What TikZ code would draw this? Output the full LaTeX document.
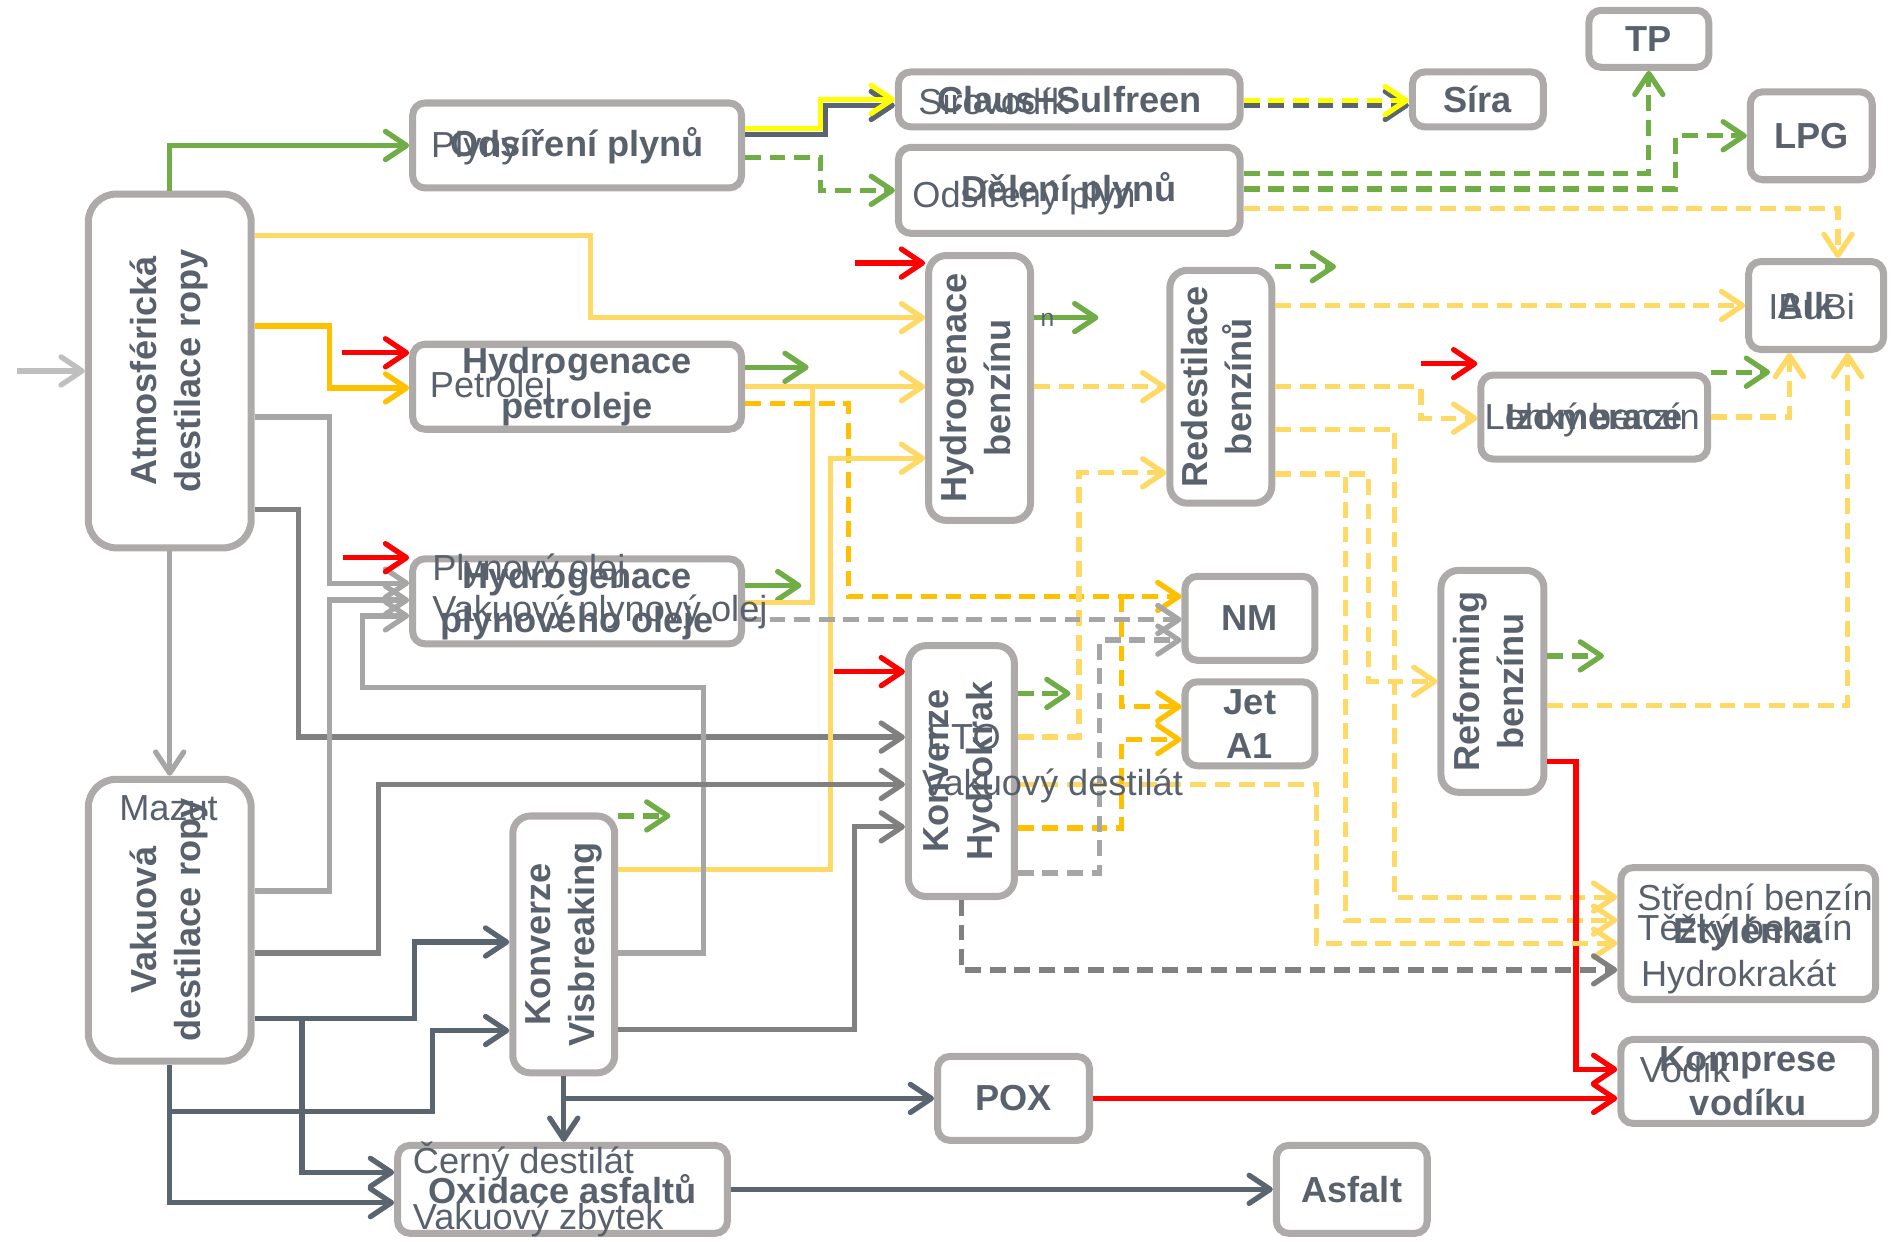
\documentclass[tikz,border=0pt]{standalone}
\usepackage{fontspec}
\setmainfont{Liberation Sans}
\usepackage{tikz}
\usepackage{xcolor}
\usepackage{graphicx}
\usetikzlibrary{arrows.meta}

\definecolor{boxgray}{HTML}{AEAAAA}
\definecolor{txtgray}{HTML}{58616C}
\definecolor{gasgreen}{HTML}{70AD47}
\definecolor{lightfuel}{HTML}{FFD966}
\definecolor{kerosene}{HTML}{FFC000}
\definecolor{hydrogen}{HTML}{FF0000}
\definecolor{sulfur}{HTML}{FFFF00}
\definecolor{crudegray}{HTML}{BFBFBF}
\definecolor{lightgas}{HTML}{A6A6A6}
\definecolor{midgas}{HTML}{808080}
\definecolor{heavy}{HTML}{5B6570}

\newcommand{\dfont}{\fontsize{10.3}{12.6}\selectfont}
\newcommand{\rotlab}[2]{\rotatebox{90}{\begin{tabular}{@{}c@{}}#1\\#2\end{tabular}}}

\begin{document}
\begin{tikzpicture}[
    x=0.012124cm, y=-0.012124cm,
    font=\dfont,
    >={Straight Barb[length=6pt,width=8pt,round]},
    unitbox/.style={
        rectangle,
        rounded corners=3.5pt,
        draw=boxgray,
        line width=2pt,
        fill=white,
        text=txtgray,
        font=\dfont\bfseries,
        align=center,
        inner sep=1pt
    },
    reactor/.style={unitbox, rounded corners=5pt},
    tower/.style={unitbox, rounded corners=8pt},
    streamlbl/.style={text=txtgray, font=\dfont, anchor=west, inner sep=0pt},
    pipe/.style={line width=1.5pt},
    flow/.style={pipe, ->},
    broken/.style={dash pattern=on 4.5pt off 2.5pt}
]
\useasboundingbox (0,0) rectangle (1568,1024);

\node (atm) [tower, minimum width=1.63cm, minimum height=3.54cm] at (140,306) {\rotlab{Atmosférická}{destilace ropy}};
\node (vakuo) [tower, minimum width=1.63cm, minimum height=2.82cm] at (140,759) {\rotlab{Vakuová}{destilace ropy}};
\node (odsir) [unitbox, minimum width=3.29cm, minimum height=0.85cm] at (476,120) {Odsíření plynů};
\node (claus) [unitbox, minimum width=3.42cm, minimum height=0.55cm] at (882,82) {Claus+Sulfreen};
\node (deleni) [unitbox, minimum width=3.42cm, minimum height=0.86cm] at (882,157) {Dělení plynů};
\node (sira) [unitbox, minimum width=1.31cm, minimum height=0.55cm] at (1219,82) {Síra};
\node (tp) [unitbox, minimum width=1.20cm, minimum height=0.57cm] at (1360,32) {TP};
\node (lpg) [unitbox, minimum width=1.22cm, minimum height=0.88cm] at (1494,112) {LPG};
\node (alk) [unitbox, minimum width=1.35cm, minimum height=0.88cm] at (1498,252) {Alk\hspace{0.2cm}};
\node (hpetr) [unitbox, minimum width=3.29cm, minimum height=0.84cm] at (476,319) {Hydrogenace\\petroleje};
\node (hplyn) [unitbox, minimum width=3.29cm, minimum height=0.85cm] at (476,496) {Hydrogenace\\plynového oleje};
\node (hbenz) [reactor, minimum width=1.02cm, minimum height=2.65cm] at (808,320) {\rotlab{Hydrogenace}{benzínu}};
\node (redest) [reactor, minimum width=1.02cm, minimum height=2.33cm] at (1007,319) {\rotlab{Redestilace}{benzínů}};
\node (izom) [unitbox, minimum width=2.27cm, minimum height=0.84cm] at (1315,344) {Izomerace};
\node (nm) [unitbox, minimum width=1.30cm, minimum height=0.84cm] at (1031,510) {NM};
\node (jet) [unitbox, minimum width=1.30cm, minimum height=0.84cm] at (1031,597) {Jet\\A1};
\node (hkrak) [reactor, minimum width=1.06cm, minimum height=2.51cm] at (793,636) {\rotlab{Konverze}{Hydrokrak}};
\node (reform) [reactor, minimum width=1.03cm, minimum height=2.22cm] at (1231,562) {\rotlab{Reforming}{benzínu}};
\node (visb) [reactor, minimum width=1.02cm, minimum height=2.57cm] at (465,779) {\rotlab{Konverze}{Visbreaking}};
\node (etyl) [unitbox, minimum width=2.55cm, minimum height=1.32cm] at (1442,770) {Etylénka};
\node (kompr) [unitbox, minimum width=2.55cm, minimum height=0.84cm] at (1442,892) {Komprese\\vodíku};
\node (pox) [unitbox, minimum width=1.52cm, minimum height=0.84cm] at (836,906) {POX};
\node (oxid) [unitbox, minimum width=3.30cm, minimum height=0.88cm] at (464,981) {Oxidace asfaltů};
\node (asfalt) [unitbox, minimum width=1.51cm, minimum height=0.88cm] at (1115,981) {Asfalt};

\coordinate (crude) at (14,306);
\coordinate (h2a) at (282,291);
\coordinate (h2b) at (283,460);
\coordinate (h2c) at (705,217);
\coordinate (h2d) at (688,554);
\coordinate (h2e) at (1172,300);
\coordinate (g1) at (906,262);
\coordinate (g2) at (1102,220);
\coordinate (g3) at (1460,307);
\coordinate (g4) at (1323,541);
\coordinate (g5) at (883,572);
\coordinate (g6) at (553,673);
\coordinate (g7) at (667,303);
\coordinate (g8) at (661,483);
\coordinate (orjoin) at (925,492);
\coordinate (vsplit) at (249,840);
\coordinate (vsplit2) at (140,917);
\coordinate (vissplit) at (visb.south |- pox);

\draw [flow, crudegray] (crude) -- (atm);
\draw [flow, gasgreen] (atm.north) -- (atm.north |- odsir) -- (odsir);
\draw [flow, lightfuel] (atm.east |- 0,194) -| (487,262) -- (hbenz.west |- 0,262);
\draw [flow, kerosene] (atm.east |- 0,269) -| (272,320) -- (hpetr.west |- 0,320);
\draw [flow, lightgas] (atm.east |- 0,344) -| (272,481) -- (hplyn.west |- 0,481);
\draw [flow, midgas] (atm.east |- 0,420) -| (246,608) -- (hkrak.west |- 0,608);
\draw [flow, lightgas] (atm.south) -- (vakuo.north);

\draw [flow, hydrogen] (h2a) -- (hpetr.west |- h2a);
\draw [flow, hydrogen] (h2b) -- (hplyn.west |- h2b);
\draw [flow, hydrogen] (h2c) -- (hbenz.west |- h2c);
\draw [flow, hydrogen] (h2d) -- (hkrak.west |- h2d);
\draw [flow, hydrogen] (h2e) -- (izom.north west |- h2e);

\draw [flow, gasgreen] (hbenz.east |- g1) -- (g1);
\draw [flow, gasgreen, broken] (redest.east |- g2) -- (g2);
\draw [flow, gasgreen, broken] (izom.east |- g3) -- (g3);
\draw [flow, gasgreen, broken] (reform.east |- g4) -- (g4);
\draw [flow, gasgreen, broken] (hkrak.east |- g5) -- (g5);
\draw [flow, gasgreen, broken] (visb.east |- g6) -- (g6);
\draw [flow, gasgreen] (hpetr.east |- g7) -- (g7);
\draw [flow, gasgreen] (hplyn.east |- g8) -- (g8);

\draw [flow, heavy] (odsir.east |- 0,111) -| (681,87) -- (claus.west |- 0,87);
\draw [flow, sulfur] (odsir.east |- 0,106) -| (677,82) -- (claus.west);
\draw [flow, gasgreen, broken] (odsir.east |- 0,130) -| (677,157) -- (deleni.west);
\draw [flow, heavy, broken] (claus.east |- 0,87) -- (sira.west |- 0,87);
\draw [flow, sulfur, broken] (claus.east |- 0,83) -- (sira.west |- 0,83);

\draw [flow, gasgreen, broken] (deleni.east |- 0,143) -| (tp.south);
\draw [flow, gasgreen, broken] (deleni.east |- 0,156) -| (1382,112) -- (lpg.west);
\draw [flow, lightfuel, broken] (deleni.east |- 0,172) -| (1516,0 |- alk.north);

\draw [flow, lightfuel] (hpetr.east) -- (hbenz.west |- hpetr.east);
\draw [pipe, lightfuel] (hplyn.east |- 0,497) -| (670,319);
\draw [flow, kerosene, broken] (hpetr.east |- 0,333) -| (700,492) -- (nm.west |- 0,492);
\draw [flow, kerosene, broken] (orjoin) |- (jet.west |- 0,583);
\draw [flow, lightfuel] (visb.east |- 0,717) -| (685,378) -- (hbenz.west |- 0,378);
\draw [flow, lightfuel, broken] (hbenz.east |- 0,319) -- (redest.west |- 0,319);

\draw [flow, lightfuel, broken] (redest.east |- 0,252) -- (alk.west |- 0,252);
\draw [flow, lightfuel, broken] (redest.east |- 0,319) -| (1172,345) -- (izom.west |- 0,345);
\draw [flow, lightfuel, broken] (redest.east |- 0,354) -| (1150,740) -- (etyl.west |- 0,740);
\draw [flow, lightfuel, broken] (redest.east |- 0,391) -| (1110,759) -- (etyl.west |- 0,759);
\draw [flow, lightfuel, broken] (redest.east |- 0,391) -| (1129,562) -- (reform.west);
\draw [flow, lightfuel, broken] (izom.east) -| (1476,0 |- alk.south);
\draw [flow, lightfuel, broken] (reform.east |- 0,582) -| (1524,0 |- alk.south);
\draw [flow, hydrogen] (reform.east |- 0,628) -| (1300,882) -- (kompr.west |- 0,882);

\draw [flow, lightfuel, broken] (hkrak.east |- 0,608) -| (890,390) -- (redest.west |- 0,390);
\draw [flow, lightfuel, broken] (hkrak.east |- 0,647) -| (1086,778) -- (etyl.west |- 0,778);
\draw [flow, kerosene, broken] (hkrak.east |- 0,683) -| (925,610) -- (jet.west |- 0,610);
\draw [flow, lightgas, broken] (hkrak.east |- 0,720) -| (907,528) -- (nm.west |- 0,528);
\draw [flow, midgas, broken] (hkrak.south) |- (etyl.west |- 0,800);
\draw [flow, lightgas, broken] (hplyn.east |- 0,511) -- (nm.west |- 0,511);

\draw [flow, lightgas] (vakuo.east |- 0,735) -| (272,495) -- (hplyn.west |- 0,495);
\draw [flow, lightgas] (visb.east |- 0,786) -| (580,567) -| (299,508) -- (hplyn.west |- 0,508);
\draw [flow, midgas] (vakuo.east |- 0,786) -| (312,647) -- (hkrak.west |- 0,647);
\draw [flow, midgas] (visb.east |- 0,849) -| (705,682) -- (hkrak.west |- 0,682);
\draw [flow, heavy] (vakuo.east |- 0,840) -| (342,777) -- (visb.west |- 0,777);
\draw [flow, heavy] (vsplit) |- (oxid.west |- 0,967);
\draw [flow, heavy] (vakuo.south) |- (oxid.west |- 0,992);
\draw [flow, heavy] (vsplit2) -| (357,850) -- (visb.west |- 0,850);
\draw [flow, heavy] (visb.south) -- (visb.south |- oxid.north);
\draw [flow, heavy] (vissplit) -- (pox.west);
\draw [flow, heavy] (oxid) -- (asfalt);
\draw [flow, hydrogen] (pox) -- (kompr.west |- pox);

\node (plyny) [streamlbl] at (355,122) {Plyny};
\node (petrolej) [streamlbl] at (354,320) {Petrolej};
\node (plynol) [streamlbl] at (356,471) {Plynový olej};
\node (vakplyn) [streamlbl] at (356,505) {Vakuový plynový olej};
\node (sirovodik) [streamlbl] at (757,84) {Sirovodík};
\node (odsply) [streamlbl] at (752,163) {Odsířený plyn};
\node (lehky) [streamlbl] at (1224,346) {Lehký benzín};
\node (ibbi) [streamlbl] at (1458,253) {IBuBi};
\node (vodik) [streamlbl] at (1352,882) {Vodík};
\node (cerny) [streamlbl] at (340,958) {Černý destilát};
\node (vakzb) [streamlbl] at (340,1006) {Vakuový zbytek};
\node (vakdest) [streamlbl] at (760,648) {Vakuový destilát};
\node (eto) [streamlbl] at (764,608) {ETO};
\node (stredni) [streamlbl] at (1350,740) {Střední benzín};
\node (tezky) [streamlbl] at (1350,768) {Těžký benzín};
\node (hkrakat) [streamlbl] at (1353,806) {Hydrokrakát};
\node (mazut) [streamlbl, anchor=center] at (139,667) {Mazut};
\node (nfrag) [streamlbl, anchor=center, font=\fontsize{7}{8}\selectfont] at (864,264) {n};
\end{tikzpicture}
\end{document}
